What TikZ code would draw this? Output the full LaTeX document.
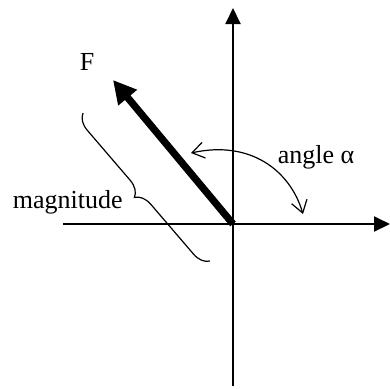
\documentclass[tikz,border=0pt]{standalone}
\usepackage{fontspec}
\setmainfont{Liberation Serif}
\usepackage{tikz}
\usetikzlibrary{arrows.meta,decorations.pathreplacing}
\tikzset{
  axis/.style={line width=1pt, -{Triangle[length=8pt, width=7.5pt]}},
  force/.style={line width=3.6pt, -{Triangle[length=11.5pt, width=11.5pt]}},
  sweep/.style={line width=0.6pt, {Straight Barb[length=6pt, width=8pt]}-{Straight Barb[length=6pt, width=8pt]}},
  curly/.style={line width=0.6pt, decorate, decoration={brace, amplitude=8pt}},
  lbl/.style={inner sep=0pt, font=\fontsize{13}{15}\selectfont},
}
\begin{document}
\begin{tikzpicture}[x=0.5pt, y=-0.5pt]
  \useasboundingbox (0,0) rectangle (390,388);
  \coordinate (O) at (233,224);
  \coordinate (xl) at (63,224);
  \coordinate (xr) at (390,224);
  \coordinate (yb) at (233,386);
  \coordinate (yt) at (233,8);
  \coordinate (tip) at (113,80);
  \coordinate (a1) at (191,153);
  \coordinate (a2) at (303,214);
  \coordinate (b1) at (210,261);
  \coordinate (b2) at (83,113);
  % axes
  \draw[axis] (xl) -- (xr);
  \draw[axis] (yb) -- (yt);
  % force vector
  \draw[force] (O) -- (tip);
  \node[lbl] (F) at (87,62) {F};
  % angle
  \draw[sweep] (a1) .. controls (250,140) and (290,170) .. (a2);
  \node[lbl] (ang) at (316,157) {angle α};
  % magnitude
  \draw[curly] (b1) -- (b2);
  \node[lbl, anchor=east] (mag) at (123,202) {magnitude};
\end{tikzpicture}
\end{document}
